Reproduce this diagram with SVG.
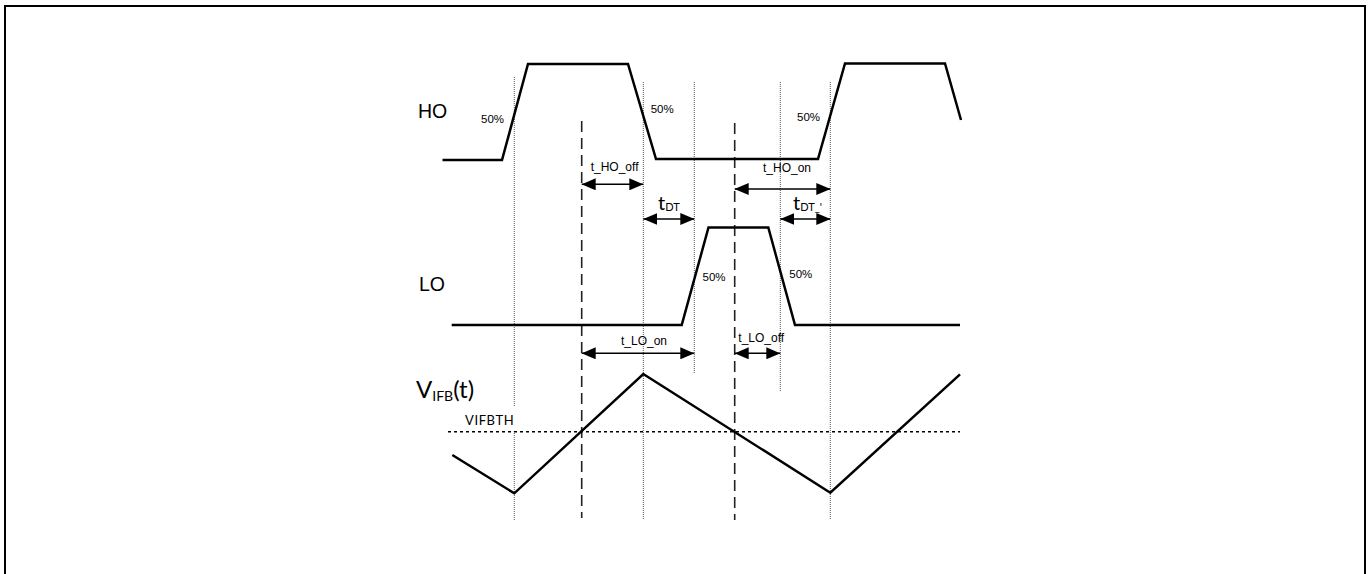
<svg xmlns="http://www.w3.org/2000/svg" width="1369" height="574" viewBox="0 0 1369 574">
<style>
.wave{fill:none;stroke:#000;stroke-width:2.5;stroke-linejoin:miter}
.dot{fill:none;stroke:#555;stroke-width:1;stroke-dasharray:1 1}
.dash{fill:none;stroke:#222;stroke-width:1.6;stroke-dasharray:11 6}
.th{fill:none;stroke:#000;stroke-width:1.5;stroke-dasharray:3 3}
.arr{fill:none;stroke:#000;stroke-width:1.5;marker-start:url(#ah);marker-end:url(#ah)}
.lbl{font-family:"Liberation Sans",Arial,sans-serif;fill:#000}
.cal{font-family:Lato,"Open Sans",sans-serif;fill:#000}
</style>
<defs>
<marker id="ah" viewBox="0 0 14 12" refX="14" refY="6" markerWidth="14" markerHeight="12" markerUnits="userSpaceOnUse" orient="auto-start-reverse">
<path d="M0,0 L14,6 L0,12 z" fill="#000"/>
</marker>
</defs>
<rect x="5" y="6" width="1360" height="600" fill="#fff" stroke="#000" stroke-width="2"/>
<g id="guides">
<path class="dot" d="M514.3,77 V407 M514.3,431 V520"/>
<path class="dot" d="M643.3,82 V520"/>
<path class="dot" d="M694.3,82 V373"/>
<path class="dot" d="M780.3,82 V392"/>
<path class="dot" d="M830.3,82 V520"/>
<path class="dash" d="M581.7,121 V518"/>
<path class="dash" d="M734.7,123 V520"/>
<path class="th" d="M448,431.7 H960"/>
</g>
<g id="HO">
<polyline class="wave" points="442.5,160 502,160 528,64 628,64 656,159 818,159 845,63.5 945,63.5 961,120"/>
<text class="lbl" x="418" y="117.5" font-size="19.5">HO</text>
<text class="lbl" x="481" y="122.7" font-size="11.5">50%</text>
<text class="lbl" x="650.7" y="113" font-size="11.5">50%</text>
<text class="lbl" x="797" y="120.7" font-size="11.5">50%</text>
</g>
<g id="LO">
<polyline class="wave" points="451.7,325 681.7,325 708.5,227.5 768.3,227.5 795,325 960,325"/>
<text class="lbl" x="419" y="291" font-size="19.5">LO</text>
<text class="lbl" x="702.5" y="281" font-size="11.5">50%</text>
<text class="lbl" x="789.3" y="277.7" font-size="11.5">50%</text>
</g>
<g id="VIFB">
<polyline class="wave" points="452.3,455 514.3,493.3 643.3,374 830.3,492.7 960,374.3"/>
<text class="cal" x="416" y="398" font-size="24">V<tspan font-size="14" dy="3">IFB</tspan><tspan dy="-3">(t)</tspan></text>
<text class="cal" x="465" y="425" font-size="13" letter-spacing="0.6">VIFBTH</text>
</g>
<g id="connectors">
<line class="arr" x1="581.7" y1="184.3" x2="643.3" y2="184.3"/>
<line class="arr" x1="643.3" y1="219" x2="694.3" y2="219"/>
<line class="arr" x1="734.7" y1="189" x2="830.3" y2="189"/>
<line class="arr" x1="780.3" y1="219" x2="830.3" y2="219"/>
<line class="arr" x1="581.7" y1="353.3" x2="694.3" y2="353.3"/>
<line class="arr" x1="734.7" y1="353.3" x2="780.3" y2="353.3"/>
</g>
<g id="labels">
<text class="lbl" x="590.7" y="171" font-size="12">t_HO_off</text>
<text class="lbl" x="763" y="172" font-size="12">t_HO_on</text>
<text class="lbl" x="621" y="345" font-size="12">t_LO_on</text>
<text class="lbl" x="738.3" y="342" font-size="12">t_LO_off</text>
<text class="cal" x="658" y="210" font-size="20">t<tspan font-size="11" dy="1">DT</tspan></text>
<text class="cal" x="793" y="210" font-size="20">t<tspan font-size="11" dy="1">DT_'</tspan></text>
</g>
</svg>
